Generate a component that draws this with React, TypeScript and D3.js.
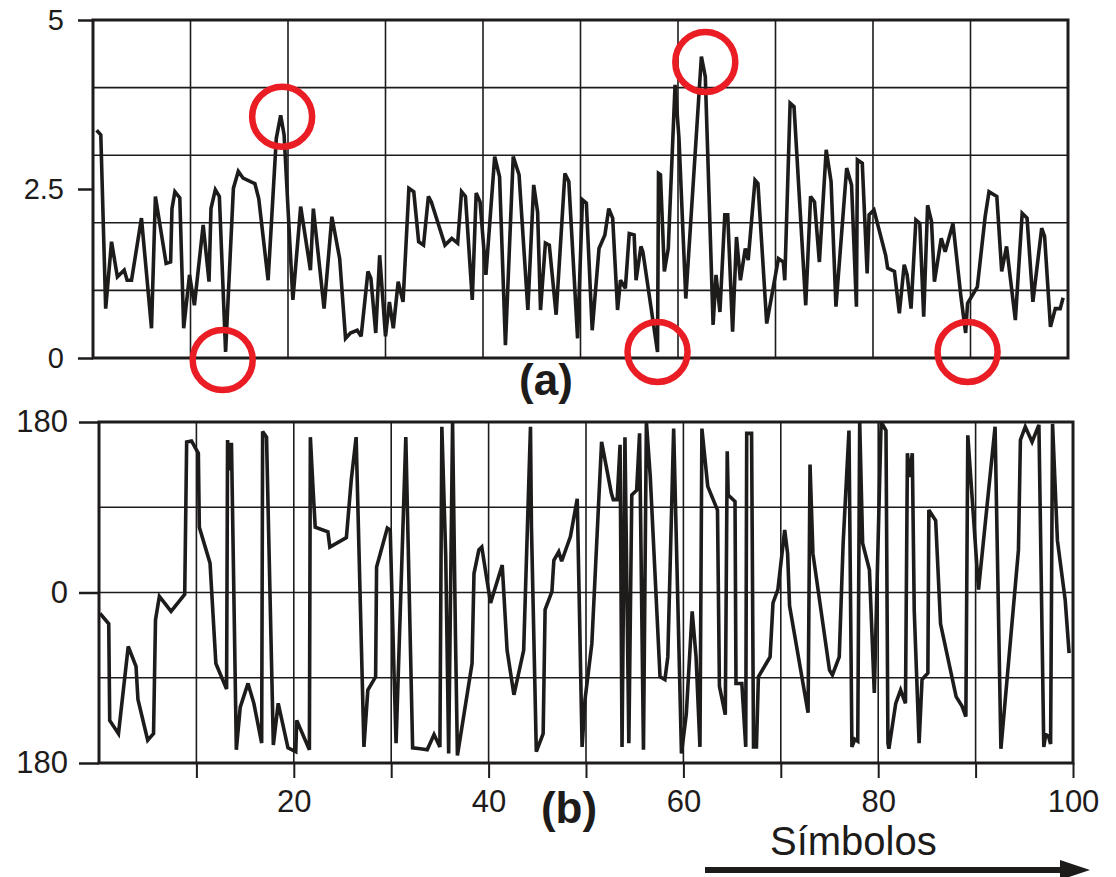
import React, {Component} from 'react';
import * as d3 from 'd3';

// panel (a): amplitude, x in symbols
const magX = [0.37, 0.8, 1.3, 1.9, 2.5, 3.2, 3.5, 3.95, 4.97, 6.0, 6.4, 7.5, 7.96, 8.1, 8.4, 8.9, 9.3, 9.9, 10.4, 11.3,
    11.9, 12.1, 12.55, 12.96, 13.6, 14.4, 14.9, 15.4, 16.6, 17.0, 17.96, 18.8, 19.25, 19.6, 20.5, 21.3, 22.3, 22.6, 23.7, 24.5,
    25.3, 25.9, 26.4, 27.1, 27.5, 28.2, 28.5, 29.0, 29.4, 30.0, 30.4, 30.8, 31.3, 31.8, 32.4, 32.9, 33.4, 33.9, 34.4, 34.7,
    36.1, 36.8, 37.4, 37.8, 38.2, 38.9, 39.3, 39.7, 40.3, 41.2, 41.7, 42.3, 43.1, 43.7, 44.6, 45.2, 45.6, 45.9, 46.4, 46.8,
    47.5, 48.4, 48.8, 49.7, 50.2, 50.6, 51.2, 51.9, 52.5, 52.9, 53.3, 53.8, 54.1, 54.6, 55.0, 55.5, 55.7, 56.2, 56.4, 57.9,
    58.0, 58.2, 58.6, 59.0, 59.7, 60.1, 60.8, 62.4, 62.8, 63.6, 63.9, 64.3, 64.8, 65.1, 65.6, 66.0, 66.4, 66.9, 67.2, 67.9,
    68.2, 69.1, 70.3, 70.8, 70.95, 71.5, 71.9, 73.1, 73.6, 74.0, 74.5, 75.2, 75.7, 76.2, 77.3, 77.8, 78.3, 78.4, 78.9, 79.4,
    79.6, 80.1, 81.3, 81.5, 82.2, 82.7, 83.2, 83.5, 83.9, 84.4, 84.8, 85.2, 85.6, 86.0, 86.3, 87.0, 87.4, 88.2, 89.0, 89.5,
    89.7, 90.7, 91.5, 91.9, 92.7, 93.2, 93.7, 94.6, 95.3, 95.8, 96.4, 97.3, 97.6, 98.2, 98.7, 99.2, 99.5];
const magY = [3.37, 3.3, 0.73, 1.72, 1.2, 1.3, 1.15, 1.15, 2.07, 0.44, 2.39, 1.4, 1.42, 2.21, 2.46, 2.37, 0.44, 1.23, 0.78, 1.97,
    1.13, 2.21, 2.49, 2.39, 0.09, 2.51, 2.76, 2.66, 2.58, 2.36, 1.15, 3.25, 3.59, 3.3, 0.86, 2.24, 1.3, 2.21, 0.73, 2.09,
    1.47, 0.29, 0.37, 0.41, 0.32, 1.28, 1.18, 0.37, 1.52, 0.32, 0.83, 0.44, 1.13, 0.83, 2.51, 2.46, 1.72, 1.67, 2.39, 2.31,
    1.67, 1.77, 1.7, 2.46, 2.39, 0.86, 2.44, 2.31, 1.23, 2.98, 2.68, 0.19, 2.98, 2.71, 0.71, 2.56, 2.16, 0.71, 1.7, 1.67,
    0.64, 2.73, 2.61, 0.29, 2.34, 2.29, 0.41, 1.62, 1.82, 2.21, 2.07, 0.71, 1.15, 1.03, 1.84, 1.82, 1.15, 1.65, 1.57, 0.09,
    2.73, 2.71, 1.28, 1.62, 4.04, 3.25, 0.88, 4.46, 4.16, 0.49, 1.23, 0.68, 2.12, 2.12, 0.39, 1.79, 1.15, 1.62, 1.45, 2.63,
    2.58, 0.51, 1.47, 1.42, 1.15, 3.77, 3.72, 0.78, 2.39, 2.31, 1.42, 3.08, 2.61, 0.76, 2.81, 2.56, 0.76, 2.93, 2.88, 1.25,
    2.12, 2.19, 1.52, 1.33, 1.28, 0.66, 1.38, 1.23, 0.73, 2.04, 1.99, 0.61, 2.26, 2.02, 1.13, 1.77, 1.57, 1.99, 0.93, 0.37,
    0.81, 1.05, 2.09, 2.46, 2.39, 1.28, 1.65, 0.56, 2.14, 2.07, 0.83, 1.92, 1.8, 0.46, 0.73, 0.73, 0.89];

// panel (b): phase in degrees
const phaseX = [0.1, 1.0, 1.1, 2.0, 3.0, 3.8, 4.0, 5.0, 5.6, 5.8, 6.2, 7.4, 8.8, 9.0, 9.5, 10.2, 10.3, 11.4, 12.0, 13.1,
    13.2, 13.4, 13.6, 14.1, 14.5, 15.3, 15.9, 16.7, 16.8, 17.2, 17.9, 18.4, 19.4, 20.2, 20.3, 21.6, 21.7, 22.0, 22.2, 23.5,
    23.7, 25.4, 25.9, 26.4, 27.2, 27.6, 28.4, 28.5, 29.6, 29.9, 30.3, 30.5, 31.5, 32.2, 33.0, 33.7, 34.4, 35.0, 35.2, 35.6,
    35.9, 36.3, 36.6, 36.8, 38.3, 38.5, 39.0, 39.3, 40.2, 41.4, 41.9, 42.6, 43.6, 44.3, 44.4, 44.9, 45.6, 45.8, 46.5, 46.7,
    47.2, 47.5, 48.4, 49.1, 49.6, 49.9, 50.6, 51.6, 52.6, 52.8, 53.2, 53.5, 53.7, 54.0, 54.4, 54.7, 55.2, 55.5, 55.9, 56.2,
    56.6, 57.6, 58.1, 58.4, 59.0, 59.8, 60.3, 60.9, 61.3, 61.7, 61.9, 62.5, 63.5, 63.7, 64.3, 64.5, 64.6, 65.3, 65.4, 66.0,
    66.4, 66.5, 67.0, 67.2, 67.5, 67.7, 68.9, 69.2, 69.7, 70.4, 70.7, 70.9, 72.8, 73.0, 73.3, 75.0, 75.3, 76.0, 76.4, 77.0,
    77.3, 77.6, 77.9, 78.1, 78.4, 79.1, 79.6, 80.3, 80.8, 81.0, 81.1, 81.8, 82.3, 82.8, 83.0, 83.2, 83.5, 83.7, 84.2, 84.5,
    85.1, 85.2, 85.9, 86.4, 88.0, 88.6, 89.0, 89.2, 90.3, 92.0, 92.6, 94.4, 94.6, 95.1, 95.8, 96.5, 97.0, 97.2, 97.5, 97.7,
    97.9, 98.4, 99.2, 99.6];
const phaseY = [-22, -33, -135, -149, -57, -78, -113, -156, -149, -29, -4, -20, -2, 159, 160, 147, 69, 31, -75, -102,
    161, 129, 158, -166, -121, -96, -117, -159, 170, 164, -161, -117, -164, -168, -135, -166, 164, 105, 69, 64,
    48, 58, 119, 164, -163, -103, -89, 27, 68, 66, -89, -159, 164, -164, -165, -166, -150, -163, 175, 38,
    -170, 179, -47, -172, -75, 20, 45, 48, -11, 29, -61, -108, -61, 175, 69, -168, -149, -18, 1, 34,
    43, 33, 59, 99, -163, -113, -54, 159, 105, 98, 98, 156, -163, 164, -159, 103, 108, 168, -166, 180,
    122, -89, -92, -68, 173, -170, -128, -20, -68, -163, 173, 112, 87, -99, -129, 149, 103, 96, -96, -96,
    -163, 168, 168, -163, -163, -89, -68, -11, 3, 66, 41, -14, -127, 135, 41, -82, -87, -68, 52, 171,
    -163, -155, -157, 180, 52, 24, -106, 180, 171, -159, -165, -117, -103, -117, 147, 122, 147, -19, -159, -92,
    -85, 87, 76, -33, -110, -120, -131, 166, 3, 175, -165, 45, 161, 175, 159, 177, -163, -150, -152, -160,
    178, 55, -8, -64];

// extremes circled in red on panel (a)
const markX = [19.4, 13.3, 57.9, 62.8, 89.7];
const markY = [3.57, -0.03, 0.09, 4.38, 0.09];

const magTicks = [0, 2.5, 5];
const magGrid = [1, 2, 3, 4];
const phaseTicks = [180, 0, -180];
const phaseGrid = [-90, 0, 90];
const symbolGrid = [10, 20, 30, 40, 50, 60, 70, 80, 90];
const symbolTicks = [10, 20, 30, 40, 50, 60, 70, 80, 90, 100];
const symbolLabels = [20, 40, 60, 80, 100];

class App extends Component {

    constructor(props) {
        super(props);
        this.svgRef = React.createRef();
    }

    componentDidMount() {
        this.draw();
    }

    draw() {
        var ink = '#1e1b1b';
        var font = 'Liberation Sans, Arial, Helvetica, sans-serif';
        var svg = d3.select(this.svgRef.current);
        svg.selectAll('*').remove();
        svg.append('rect').attr('width', 1116).attr('height', 877).attr('fill', '#ffffff');

        // ---- panel (a)
        var xA = d3.scaleLinear().domain([0, 100]).range([93, 1068]);
        var yA = d3.scaleLinear().domain([0, 5]).range([358, 20]);
        var gA = svg.append('g');

        gA.selectAll('.vgrid').data(symbolGrid).join('line')
            .attr('class', 'vgrid')
            .attr('x1', d => xA(d)).attr('x2', d => xA(d))
            .attr('y1', yA(5)).attr('y2', yA(0))
            .attr('stroke', ink).attr('stroke-width', 1.6);
        gA.selectAll('.hgrid').data(magGrid).join('line')
            .attr('class', 'hgrid')
            .attr('x1', xA(0)).attr('x2', xA(100))
            .attr('y1', d => yA(d)).attr('y2', d => yA(d))
            .attr('stroke', ink).attr('stroke-width', 1.6);

        gA.append('g')
            .attr('transform', `translate(${xA(0)},0)`)
            .call(d3.axisLeft(yA).tickValues(magTicks).tickSize(15).tickPadding(14).tickFormat(d => String(d)))
            .call(g => g.select('.domain').remove())
            .call(g => g.selectAll('line').attr('stroke', ink).attr('stroke-width', 2.5))
            .call(g => g.selectAll('text').attr('font-size', 29).attr('font-family', font).attr('fill', ink));

        var lineA = d3.line()
            .x(d => xA(d[0]))
            .y(d => yA(d[1]));
        gA.append('path')
            .datum(magX.map((x, i) => [x, magY[i]]))
            .attr('d', lineA)
            .attr('fill', 'none')
            .attr('stroke', ink)
            .attr('stroke-width', 3.6)
            .attr('stroke-linejoin', 'miter')
            .attr('stroke-miterlimit', 3);

        gA.append('rect')
            .attr('x', xA(0)).attr('y', yA(5))
            .attr('width', xA(100) - xA(0)).attr('height', yA(0) - yA(5))
            .attr('fill', 'none').attr('stroke', ink).attr('stroke-width', 3);

        gA.selectAll('.mark').data(markX).join('circle')
            .attr('class', 'mark')
            .attr('cx', d => xA(d))
            .attr('cy', (d, i) => yA(markY[i]))
            .attr('r', 30)
            .attr('fill', 'none')
            .attr('stroke', '#ea1c24')
            .attr('stroke-width', 6.5);

        svg.append('text')
            .attr('x', 546).attr('y', 395)
            .attr('text-anchor', 'middle')
            .attr('font-family', font).attr('font-weight', 'bold').attr('font-size', 44)
            .attr('fill', ink)
            .text('(a)');

        // ---- panel (b)
        var xB = d3.scaleLinear().domain([0, 100]).range([99, 1073]);
        var yB = d3.scaleLinear().domain([-180, 180]).range([763, 422]);
        var gB = svg.append('g');

        gB.selectAll('.vgrid').data(symbolGrid).join('line')
            .attr('class', 'vgrid')
            .attr('x1', d => xB(d)).attr('x2', d => xB(d))
            .attr('y1', yB(180)).attr('y2', yB(-180))
            .attr('stroke', ink).attr('stroke-width', 1.6);
        gB.selectAll('.hgrid').data(phaseGrid).join('line')
            .attr('class', 'hgrid')
            .attr('x1', xB(0)).attr('x2', xB(100))
            .attr('y1', d => yB(d)).attr('y2', d => yB(d))
            .attr('stroke', ink).attr('stroke-width', 1.6);

        gB.append('g')
            .attr('transform', `translate(${xB(0)},0)`)
            .call(d3.axisLeft(yB).tickValues(phaseTicks).tickSize(20).tickPadding(11).tickFormat(d => String(Math.abs(d))))
            .call(g => g.select('.domain').remove())
            .call(g => g.selectAll('line').attr('stroke', ink).attr('stroke-width', 2.5))
            .call(g => g.selectAll('text').attr('font-size', 31).attr('font-family', font).attr('fill', ink));

        gB.append('g')
            .attr('transform', `translate(0,${yB(-180)})`)
            .call(d3.axisBottom(xB).tickValues(symbolTicks).tickSize(15).tickPadding(12)
                .tickFormat(d => symbolLabels.indexOf(d) >= 0 ? String(d) : ''))
            .call(g => g.select('.domain').remove())
            .call(g => g.selectAll('line').attr('stroke', ink).attr('stroke-width', 2))
            .call(g => g.selectAll('text').attr('font-size', 31).attr('font-family', font).attr('fill', ink));

        var lineB = d3.line()
            .x(d => xB(d[0]))
            .y(d => yB(d[1]));
        gB.append('path')
            .datum(phaseX.map((x, i) => [x, phaseY[i]]))
            .attr('d', lineB)
            .attr('fill', 'none')
            .attr('stroke', ink)
            .attr('stroke-width', 3.6)
            .attr('stroke-linejoin', 'miter')
            .attr('stroke-miterlimit', 3);

        gB.append('rect')
            .attr('x', xB(0)).attr('y', yB(180))
            .attr('width', xB(100) - xB(0)).attr('height', yB(-180) - yB(180))
            .attr('fill', 'none').attr('stroke', ink).attr('stroke-width', 3);

        svg.append('text')
            .attr('x', 569).attr('y', 823)
            .attr('text-anchor', 'middle')
            .attr('font-family', font).attr('font-weight', 'bold').attr('font-size', 44)
            .attr('fill', ink)
            .text('(b)');

        svg.append('text')
            .attr('x', 770).attr('y', 855)
            .attr('font-family', font).attr('font-size', 40)
            .attr('fill', ink)
            .text('Símbolos');

        // arrow under the x label
        svg.append('line')
            .attr('x1', 705).attr('x2', 1066)
            .attr('y1', 870).attr('y2', 870)
            .attr('stroke', ink).attr('stroke-width', 6);
        svg.append('path')
            .attr('d', 'M1060,860 L1090,870 L1060,880 Z')
            .attr('fill', ink);
    }

    render() {
        return <svg ref={this.svgRef} width={1116} height={877}
            style={{position: 'absolute', left: 0, top: 0}}></svg>;
    }
}

export default App;
